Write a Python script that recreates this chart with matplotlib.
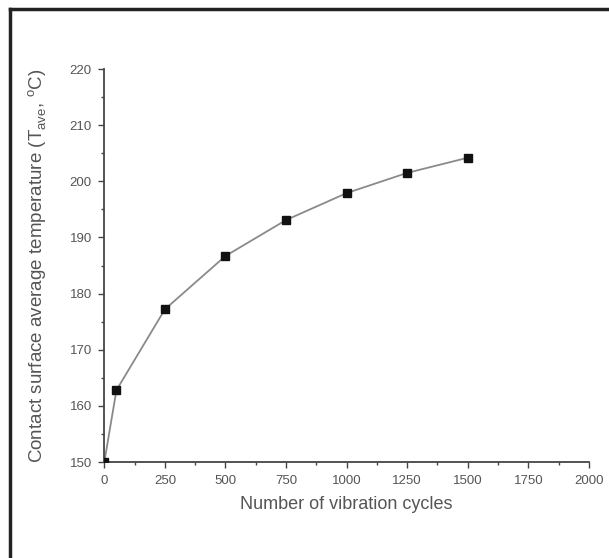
import matplotlib.pyplot as plt
from matplotlib.lines import Line2D
from matplotlib.ticker import MultipleLocator

# data
cycles = [0, 50, 250, 500, 750, 1000, 1250, 1500]
temp = [150.0, 162.8, 177.2, 186.7, 193.1, 197.9, 201.5, 204.2]

plt.rcParams["font.family"] = ["Liberation Sans", "DejaVu Sans"]
plt.rcParams["mathtext.fontset"] = "custom"
plt.rcParams["mathtext.rm"] = "Liberation Sans"

txt = "#555555"

fig = plt.figure(figsize=(6.09, 5.58), dpi=100)
ax = fig.add_axes([0.1713, 0.172, 0.7957, 0.7043])

ax.plot(cycles, temp, color="#8a8a8a", lw=1.3, zorder=2)
ax.plot(cycles, temp, ls="none", marker="s", ms=6, color="#111111", zorder=3)

ax.set_xlim(0, 2000)
ax.set_ylim(150, 220)
ax.xaxis.set_major_locator(MultipleLocator(250))
ax.xaxis.set_minor_locator(MultipleLocator(125))
ax.yaxis.set_major_locator(MultipleLocator(10))
ax.yaxis.set_minor_locator(MultipleLocator(5))

for s in ["top", "right"]:
    ax.spines[s].set_visible(False)
for s in ["left", "bottom"]:
    ax.spines[s].set_color("#444444")
    ax.spines[s].set_linewidth(1.3)

ax.tick_params(which="major", direction="out", length=4, width=1, color="#444444",
               labelsize=9.5, labelcolor=txt, pad=5)
ax.tick_params(which="minor", direction="out", length=2.5, width=1, color="#444444")

ax.set_xlabel("Number of vibration cycles", fontsize=13, color=txt, labelpad=7)
ax.set_ylabel(r"Contact surface average temperature (T$_{\mathrm{ave}}$, $^{\mathrm{o}}$C)",
              fontsize=13.5, color=txt, labelpad=15)

# outer frame (only top and left edges are visible in the crop)
fig.add_artist(Line2D([9.5 / 609, 1.0], [1 - 9 / 558, 1 - 9 / 558], transform=fig.transFigure,
                      color="#222222", lw=2.5))
fig.add_artist(Line2D([9.5 / 609, 9.5 / 609], [0.0, 1 - 9 / 558], transform=fig.transFigure,
                      color="#222222", lw=2.5))

fig.savefig("out.png", dpi=100)
